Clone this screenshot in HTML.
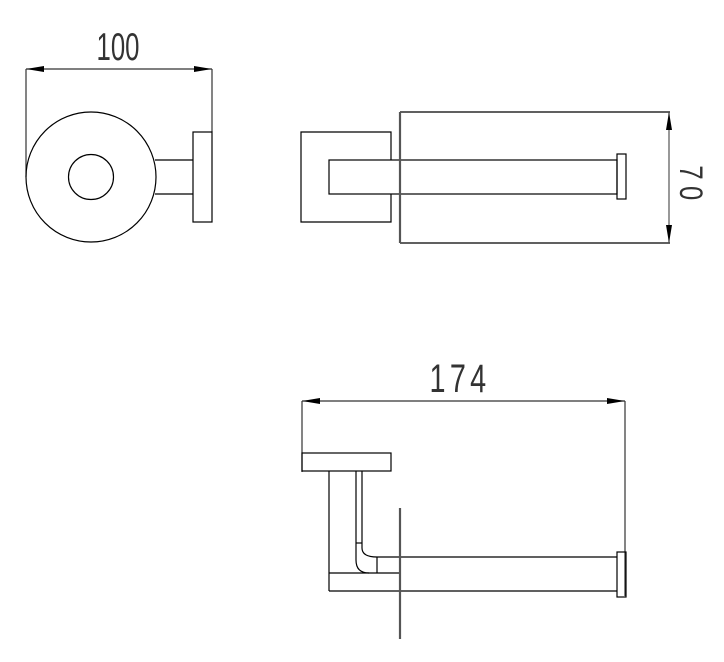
<!DOCTYPE html>
<html><head><style>
html,body{margin:0;padding:0;background:#fff;}
svg{display:block;}
text{font-family:"Liberation Sans",sans-serif;fill:#333;}
</style></head><body>
<svg width="724" height="662" viewBox="0 0 724 662" xmlns="http://www.w3.org/2000/svg">
<g fill="none" stroke="#000" stroke-width="1.2">
<!-- View 1 -->
<line x1="26" y1="69" x2="212" y2="69" stroke="#333"/>
<line x1="26" y1="69" x2="26" y2="177" stroke="#333"/>
<line x1="212" y1="69" x2="212" y2="132" stroke="#333"/>
<circle cx="91" cy="177" r="65"/>
<circle cx="91" cy="177" r="22.5"/>
<line x1="155" y1="160" x2="193" y2="160"/>
<line x1="155" y1="194" x2="193" y2="194"/>
<rect x="193" y="132" width="19" height="90"/>
<!-- View 2 -->
<path d="M391 160 V132 H301 V222 H391 V194"/>
<rect x="329" y="160" width="288" height="34"/>
<rect x="617" y="154" width="9" height="45"/>
<line x1="400" y1="112" x2="670" y2="112"/>
<line x1="400" y1="243" x2="670" y2="243"/>
<line x1="400" y1="112" x2="400" y2="243" stroke="#555" stroke-width="2.2"/>
<line x1="669" y1="112" x2="669" y2="243" stroke="#555"/>
<!-- View 3 -->
<line x1="302" y1="401" x2="625" y2="401" stroke="#333"/>
<line x1="302" y1="401" x2="302" y2="472" stroke="#333"/>
<line x1="625" y1="401" x2="625" y2="596" stroke="#333"/>
<rect x="302" y="453" width="89" height="18"/>
<line x1="329" y1="471" x2="329" y2="591"/>
<line x1="356" y1="471" x2="356" y2="543"/>
<line x1="362" y1="471" x2="362" y2="543"/>
<line x1="356" y1="543" x2="362" y2="543"/>
<path d="M356 543 V560 Q356 573 369 573"/>
<path d="M362 543 V548 Q362 557 377 557"/>
<line x1="377" y1="557" x2="377" y2="573"/>
<line x1="329" y1="573" x2="400" y2="573"/>
<line x1="377" y1="557" x2="617" y2="557"/>
<line x1="329" y1="591" x2="617" y2="591"/>
<rect x="617" y="552" width="9" height="45"/>
<line x1="400" y1="508" x2="400" y2="639" stroke="#555" stroke-width="2.2"/>
</g>
<g fill="#000">
<polygon points="26,69 44,66 44,72"/>
<polygon points="212,69 194,66 194,72"/>
<polygon points="669,112 666,130 672,130"/>
<polygon points="669,243 666,225 672,225"/>
<polygon points="302,401 320,398 320,404"/>
<polygon points="625,401 607,398 607,404"/>
</g>
<text x="0" y="0" font-size="39" text-anchor="middle" transform="translate(118 60) scale(0.66 1)">100</text>
<text x="0" y="0" font-size="40" text-anchor="middle" letter-spacing="6" transform="translate(460 392) scale(0.72 1)">174</text>
<text x="0" y="0" font-size="32" text-anchor="middle" letter-spacing="8" transform="translate(680 186) rotate(90) scale(0.8 1)">70</text>
</svg>
</body></html>
